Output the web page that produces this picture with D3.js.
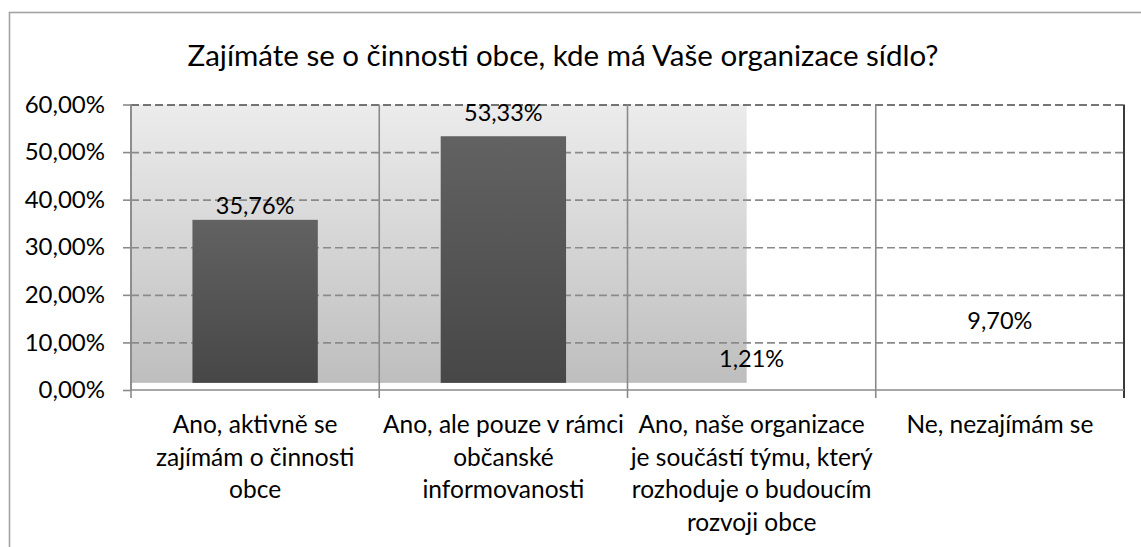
<!DOCTYPE html>
<html>
<head>
<meta charset="utf-8">
<script src="https://cdn.jsdelivr.net/npm/d3@7"></script>
<style>
  html, body { margin: 0; padding: 0; background: #fff; }
  svg { display: block; }
  text { font-family: Lato, "Open Sans", sans-serif; fill: #000; }
</style>
</head>
<body>
<svg id="chart" width="1141" height="547"></svg>
<script>
// Survey answers: share of organisations following their municipality's activities
const title = "Zajímáte se o činnosti obce, kde má Vaše organizace sídlo?";
const categories = [
  "Ano, aktivně se zajímám o činnosti obce",
  "Ano, ale pouze v rámci občanské informovanosti",
  "Ano, naše organizace je součástí týmu, který rozhoduje o budoucím rozvoji obce",
  "Ne, nezajímám se"
];
const categoryLines = [
  ["Ano, aktivně se", "zajímám o činnosti", "obce"],
  ["Ano, ale pouze v rámci", "občanské", "informovanosti"],
  ["Ano, naše organizace", "je součástí týmu, který", "rozhoduje o budoucím", "rozvoji obce"],
  ["Ne, nezajímám se"]
];
const values = [35.76, 53.33, 1.21, 9.70];
const valueLabels = ["35,76%", "53,33%", "1,21%", "9,70%"];
const yTicks = [0, 10, 20, 30, 40, 50, 60];
const yTickLabels = ["0,00%", "10,00%", "20,00%", "30,00%", "40,00%", "50,00%", "60,00%"];

// ---- layout ----
const plot = { left: 131, right: 1124, top: 104.5, bottom: 390 };
const barFloor = 1.5;              // bars start slightly above the axis
const barWidthRatio = 0.505;
const labelGap = [6, 15, 17, 15];  // space between bar top and its value label
const barFills = ["url(#barGrad)", "url(#barGrad)", "#ffffff", "#ffffff"];
const shadeRightRatio = 0.62;      // plot shading stops part-way across

const svg = d3.select("#chart");

const x = d3.scaleBand().domain(categories).range([plot.left, plot.right]).padding(0);
const y = d3.scaleLinear().domain([0, 60]).range([plot.bottom, plot.top]);

const defs = svg.append("defs");
const bg = defs.append("linearGradient").attr("id", "plotGrad")
  .attr("x1", 0).attr("y1", 0).attr("x2", 0).attr("y2", 1);
bg.append("stop").attr("offset", "0%").attr("stop-color", "#ececec");
bg.append("stop").attr("offset", "100%").attr("stop-color", "#bebebe");
const bgBar = defs.append("linearGradient").attr("id", "barGrad")
  .attr("x1", 0).attr("y1", 0).attr("x2", 0).attr("y2", 1);
bgBar.append("stop").attr("offset", "0%").attr("stop-color", "#626262");
bgBar.append("stop").attr("offset", "100%").attr("stop-color", "#474747");

// outer frame
svg.append("rect")
  .attr("x", 9.5).attr("y", 12.5).attr("width", 1160).attr("height", 560)
  .attr("fill", "none").attr("stroke", "#a3a3a3").attr("stroke-width", 1.6);

// title
svg.append("text")
  .attr("x", 563).attr("y", 66)
  .attr("text-anchor", "middle")
  .style("font-size", "29.5px")
  .text(title);

// shaded plot background
svg.append("rect")
  .attr("x", plot.left)
  .attr("y", y(60))
  .attr("width", (plot.right - plot.left) * shadeRightRatio)
  .attr("height", y(barFloor) - y(60))
  .attr("fill", "url(#plotGrad)");

// horizontal dashed gridlines
const grid = svg.append("g")
  .attr("transform", `translate(${plot.left},0)`)
  .call(d3.axisLeft(y).tickValues(yTicks.filter(d => d > 0))
    .tickSize(-(plot.right - plot.left)).tickFormat(""));
grid.select(".domain").remove();
grid.selectAll(".tick line")
  .attr("stroke", d => d === 60 ? "#4a4a4a" : "#8a8a8a")
  .attr("stroke-width", 1.6)
  .attr("stroke-dasharray", "8,4");

// vertical category separators
const bounds = categories.map(c => x(c)).concat([plot.right]);
svg.append("g").selectAll("line")
  .data(bounds)
  .join("line")
  .attr("x1", d => d).attr("x2", d => d)
  .attr("y1", plot.top).attr("y2", plot.bottom + 8)
  .attr("stroke", (d, i) => i === bounds.length - 1 ? "#3a3a3a" : "#8a8a8a")
  .attr("stroke-width", (d, i) => i === bounds.length - 1 ? 2 : 1.6);

// bars
const bw = x.bandwidth() * barWidthRatio;
svg.append("g").selectAll("rect")
  .data(values)
  .join("rect")
  .attr("x", (d, i) => x(categories[i]) + (x.bandwidth() - bw) / 2)
  .attr("y", d => y(d))
  .attr("width", bw)
  .attr("height", d => Math.max(0, y(barFloor) - y(d)))
  .attr("fill", (d, i) => barFills[i]);

// value labels
svg.append("g").selectAll("text")
  .data(values)
  .join("text")
  .attr("x", (d, i) => x(categories[i]) + x.bandwidth() / 2)
  .attr("y", (d, i) => y(d) - labelGap[i])
  .attr("text-anchor", "middle")
  .style("font-size", "23.5px")
  .text((d, i) => valueLabels[i]);

// y axis
const yAxis = svg.append("g")
  .attr("transform", `translate(${plot.left},0)`)
  .call(d3.axisLeft(y).tickValues(yTicks).tickSize(8).tickPadding(18)
    .tickFormat((d, i) => yTickLabels[i]));
yAxis.select(".domain").attr("stroke", "#8a8a8a").attr("stroke-width", 1.6)
  .attr("d", `M0,${plot.top}V${plot.bottom}`);
yAxis.selectAll(".tick line").attr("stroke", "#8a8a8a").attr("stroke-width", 1.6);
yAxis.selectAll(".tick text")
  .style("font-family", "Lato, 'Open Sans', sans-serif")
  .style("font-size", "24px").attr("fill", "#000");

// x axis line
svg.append("line")
  .attr("x1", plot.left).attr("x2", plot.right)
  .attr("y1", plot.bottom).attr("y2", plot.bottom)
  .attr("stroke", "#8a8a8a").attr("stroke-width", 1.6);

// category labels
const catG = svg.append("g").selectAll("text")
  .data(categoryLines)
  .join("text")
  .attr("text-anchor", "middle")
  .style("font-size", "24.5px")
  .attr("transform", (d, i) => `translate(${x(categories[i]) + x.bandwidth() / 2},433)`);
catG.selectAll("tspan")
  .data(d => d)
  .join("tspan")
  .attr("x", 0)
  .attr("y", (d, j) => j * 32.5)
  .text(d => d);
</script>
</body>
</html>
